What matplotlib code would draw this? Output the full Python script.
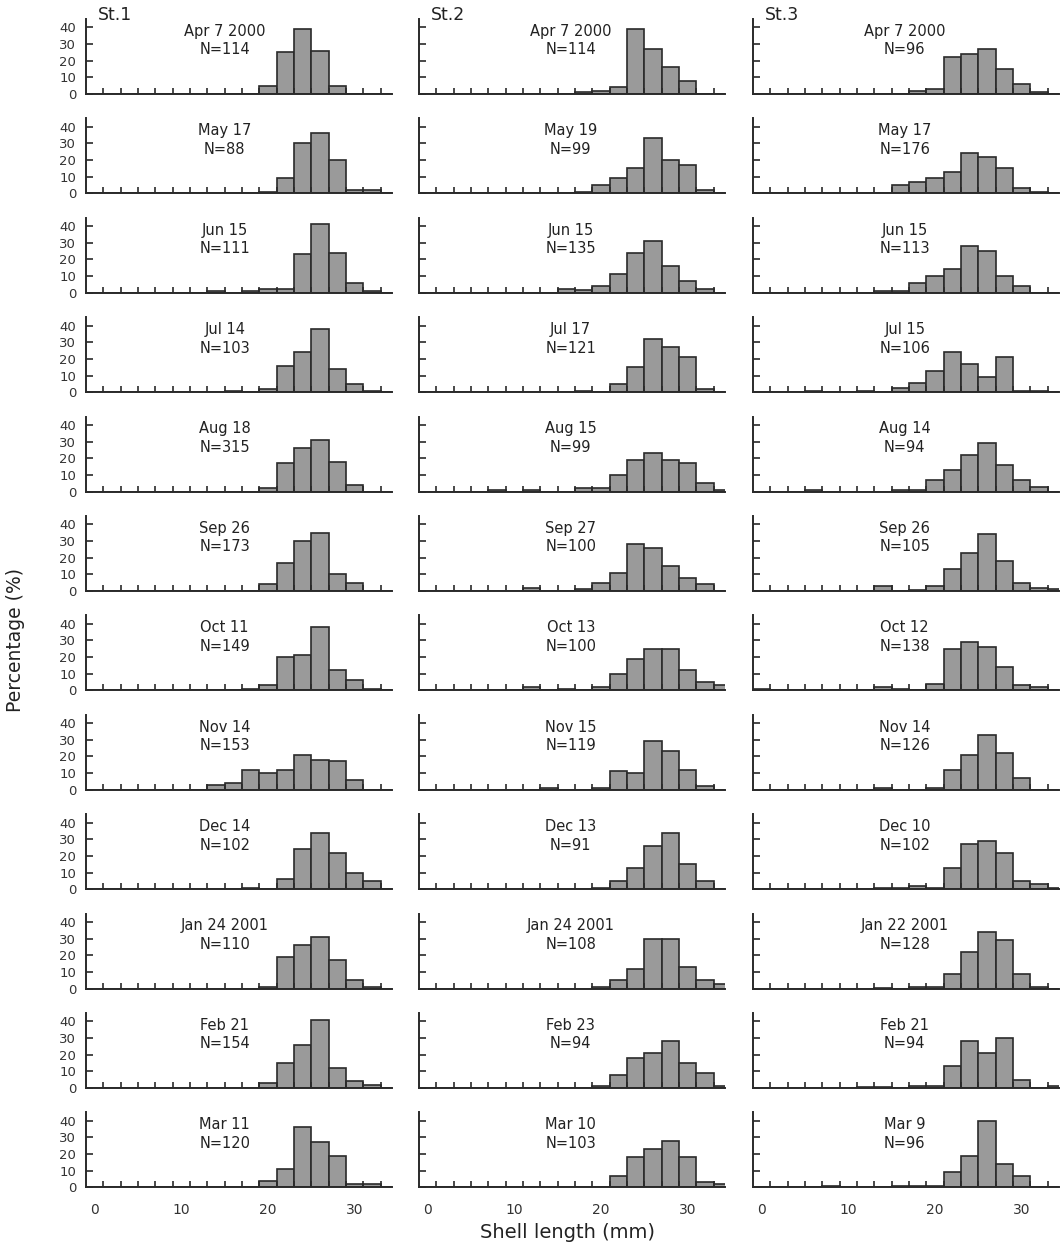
import matplotlib
matplotlib.use("Agg")
import matplotlib.pyplot as plt
import numpy as np

plt.rcParams["font.family"] = ["DejaVu Sans", "Noto Sans CJK JP"]

# bin centres in mm (each bin is 2 mm wide, edges on odd numbers)
centers = np.arange(0, 36, 2)

stations = ["St.1", "St.2", "St.3"]

st1_dates = ["Apr 7 2000", "May 17", "Jun 15", "Jul 14", "Aug 18", "Sep 26",
             "Oct 11", "Nov 14", "Dec 14", "Jan 24 2001", "Feb 21", "Mar 11"]
st1_n = [114, 88, 111, 103, 315, 173, 149, 153, 102, 110, 154, 120]
st1_pct = [
    [0, 0, 0, 0, 0, 0, 0, 0, 0, 0, 5, 25, 39, 26, 5, 0, 0, 0],
    [0, 0, 0, 0, 0, 0, 0, 0, 0, 0, 1, 9, 30, 36, 20, 2, 2, 0],
    [0, 0, 0, 0, 0, 0, 0, 1, 0, 1, 2, 2, 23, 41, 24, 6, 1, 0],
    [0, 0, 0, 0, 0, 0, 0, 0, 1, 0, 2, 16, 24, 38, 14, 5, 1, 0],
    [0, 0, 0, 0, 0, 0, 0, 0, 0, 0, 2, 17, 26, 31, 18, 4, 0, 0],
    [0, 0, 0, 0, 0, 0, 0, 0, 0, 0, 4, 17, 30, 35, 10, 5, 0, 0],
    [0, 0, 0, 0, 0, 0, 0, 0, 0, 1, 3, 20, 21, 38, 12, 6, 1, 0],
    [0, 0, 0, 0, 0, 0, 0, 3, 4, 12, 10, 12, 21, 18, 17, 6, 0, 0],
    [0, 0, 0, 0, 0, 0, 0, 0, 0, 1, 0, 6, 24, 34, 22, 10, 5, 0],
    [0, 0, 0, 0, 0, 0, 0, 0, 0, 0, 1, 19, 26, 31, 17, 5, 1, 0],
    [0, 0, 0, 0, 0, 0, 0, 0, 0, 0, 3, 15, 26, 41, 12, 4, 2, 0],
    [0, 0, 0, 0, 0, 0, 0, 0, 0.5, 0, 4, 11, 36, 27, 19, 2, 2, 0],
]

st2_dates = ["Apr 7 2000", "May 19", "Jun 15", "Jul 17", "Aug 15", "Sep 27",
             "Oct 13", "Nov 15", "Dec 13", "Jan 24 2001", "Feb 23", "Mar 10"]
st2_n = [114, 99, 135, 121, 99, 100, 100, 119, 91, 108, 94, 103]
st2_pct = [
    [0, 0, 0, 0, 0, 0, 0, 0, 0, 1, 2, 4, 39, 27, 16, 8, 0, 0],
    [0, 0, 0, 0, 0, 0, 0, 0, 0, 1, 5, 9, 15, 33, 20, 17, 2, 0],
    [0, 0, 0, 0, 0, 0, 0, 0, 2, 1.5, 4, 11, 24, 31, 16, 7, 2, 0],
    [0, 0, 0, 0, 0, 0, 0, 0, 0, 1, 0, 5, 15, 32, 27, 21, 2, 0],
    [0, 0, 0, 0, 1, 0, 1, 0, 0, 2, 2, 10, 19, 23, 19, 17, 5, 1],
    [0, 0, 0, 0, 0, 0, 2, 0, 0, 1, 5, 11, 28, 26, 15, 8, 4, 0],
    [0, 0, 0, 0, 0, 0, 2, 0, 1, 0, 2, 10, 19, 25, 25, 12, 5, 3],
    [0, 0, 0, 0, 0, 0, 0, 1, 0, 0, 1, 11, 10, 29, 23, 12, 2, 0],
    [0, 0, 0, 0, 0, 0, 0, 0, 0, 0, 1, 5, 13, 26, 34, 15, 5, 0],
    [0, 0, 0, 0, 0, 0, 0, 0, 0, 0, 1, 5, 12, 30, 30, 13, 5, 3],
    [0, 0, 0, 0, 0, 0, 0, 0, 0, 0, 1, 8, 18, 21, 28, 15, 9, 1],
    [0, 0, 0, 0, 0, 0, 0, 0.5, 0.5, 0.5, 0, 7, 18, 23, 28, 18, 3, 2],
]

st3_dates = ["Apr 7 2000", "May 17", "Jun 15", "Jul 15", "Aug 14", "Sep 26",
             "Oct 12", "Nov 14", "Dec 10", "Jan 22 2001", "Feb 21", "Mar 9"]
st3_n = [96, 176, 113, 106, 94, 105, 138, 126, 102, 128, 94, 96]
st3_pct = [
    [0, 0, 0, 0, 0, 0, 0, 0, 0, 2, 3, 22, 24, 27, 15, 6, 1, 0],
    [0, 0, 0, 0, 0, 0, 0, 0, 5, 7, 9, 13, 24, 22, 15, 3, 1, 0],
    [0, 0, 0, 0, 0, 0, 0, 1, 1, 6, 10, 14, 28, 25, 10, 4, 0, 0],
    [0, 0, 0, 1, 0, 0, 0.5, 0, 2.5, 5.5, 13, 24, 17, 9, 21, 1, 1, 0],
    [0, 0, 0, 1, 0, 0, 0, 0, 1, 1, 7, 13, 22, 29, 16, 7, 3, 0],
    [0, 0, 0, 0, 0, 0, 0, 3, 0, 0.5, 3, 13, 23, 34, 18, 5, 2, 1],
    [1, 0, 0, 0, 0, 0, 0, 2, 1, 0, 4, 25, 29, 26, 14, 3, 2, 0],
    [0, 0, 0, 0, 0, 0, 0, 1, 0, 0, 1, 12, 21, 33, 22, 7, 0, 0],
    [0, 0, 0, 0, 0, 0, 0, 1, 1, 2, 1, 13, 27, 29, 22, 5, 3, 1],
    [0, 0, 0, 0, 0, 0, 0, 0.5, 0, 1, 1, 9, 22, 34, 29, 9, 1, 0],
    [0, 0, 0, 0, 0, 0, 0.5, 0.5, 0, 1, 1, 13, 28, 21, 30, 5, 0, 1],
    [0, 0, 0, 0, 1, 0, 0, 0.5, 1, 1, 1, 9, 19, 40, 14, 7, 0, 0],
]

all_dates = [st1_dates, st2_dates, st3_dates]
all_n = [st1_n, st2_n, st3_n]
all_pct = [st1_pct, st2_pct, st3_pct]

W, H = 1062.0, 1246.0
fig = plt.figure(figsize=(W / 100, H / 100), dpi=100)

col_left = [86, 419, 753]
x_hi = 34.3
ax_w = (x_hi + 1) * 8.67
ax_h = 75
base0 = 94
step = 99.4
ink = "#2a2a2a"

for c in range(3):
    for r in range(12):
        base = base0 + r * step
        ax = fig.add_axes([col_left[c] / W, 1 - base / H, ax_w / W, ax_h / H])
        ax.bar(centers, all_pct[c][r], width=2, color="#9a9a9a",
               edgecolor=ink, linewidth=1.2)
        ax.set_xlim(-1, x_hi)
        ax.set_ylim(0, 45)
        for s in ["top", "right"]:
            ax.spines[s].set_visible(False)
        for s in ["left", "bottom"]:
            ax.spines[s].set_linewidth(1.4)
            ax.spines[s].set_color(ink)
        ax.set_xticks([0, 10, 20, 30])
        ax.set_xticks(np.arange(1, 34, 2), minor=True)
        ax.tick_params(axis="x", which="major", length=0, labelsize=10,
                       pad=11, labelbottom=(r == 11), colors="#333333")
        ax.tick_params(axis="x", which="minor", direction="in", length=4,
                       width=1.2, color=ink)
        ax.set_yticks([0, 10, 20, 30, 40])
        ax.tick_params(axis="y", direction="in", length=5, width=1.2,
                       color=ink, labelsize=9.5, pad=7,
                       labelleft=(c == 0), labelcolor="#333333")
        tx = 15 if c == 0 else 16.5
        ax.text(tx, 32, f"{all_dates[c][r]}\nN={all_n[c][r]}", ha="center",
                va="center", fontsize=10.5, linespacing=1.3, color="#222222")

for c in range(3):
    fig.text((col_left[c] + 12) / W, 1 - 15 / H, stations[c], fontsize=12.5,
             ha="left", va="center", color="#222222")

fig.text(567 / W, 1 - 1233 / H, "Shell length (mm)", fontsize=14,
         ha="center", va="center", color="#222222")
fig.text(16 / W, 1 - 640 / H, "Percentage (%)", fontsize=13.5, rotation=90,
         ha="center", va="center", color="#222222")

fig.savefig("out.png", dpi=100)
